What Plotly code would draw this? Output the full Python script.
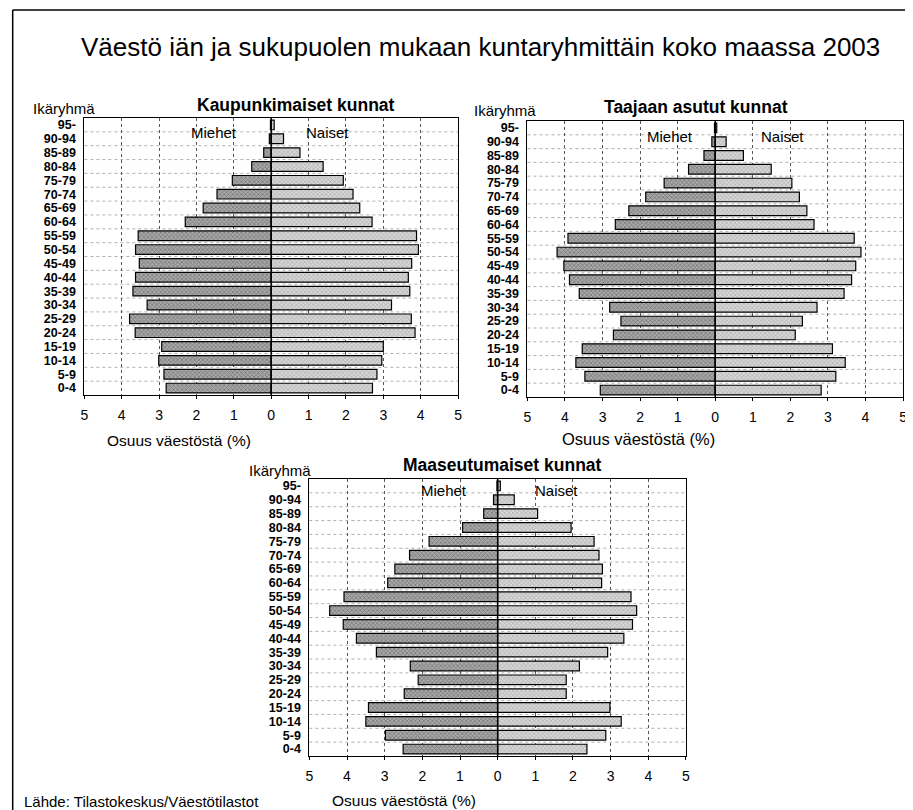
import plotly.graph_objects as go

# Page offset (browser default body margin) and figure size
OFF = 8
W, H = 913 - OFF, 810 - OFF

age_groups = ["0-4", "5-9", "10-14", "15-19", "20-24", "25-29", "30-34", "35-39",
              "40-44", "45-49", "50-54", "55-59", "60-64", "65-69", "70-74",
              "75-79", "80-84", "85-89", "90-94", "95-"]

# Kaupunkimaiset kunnat
kaup_miehet = [2.81, 2.87, 3.01, 2.93, 3.64, 3.79, 3.32, 3.70, 3.63, 3.53,
               3.63, 3.56, 2.30, 1.82, 1.45, 1.04, 0.52, 0.20, 0.05, 0.02]
kaup_naiset = [2.71, 2.83, 2.96, 3.00, 3.85, 3.75, 3.22, 3.71, 3.67, 3.76,
               3.94, 3.89, 2.70, 2.37, 2.19, 1.93, 1.39, 0.77, 0.33, 0.08]
# Taajaan asutut kunnat
taaj_miehet = [3.06, 3.47, 3.71, 3.54, 2.71, 2.51, 2.81, 3.62, 3.88, 4.03,
               4.21, 3.92, 2.66, 2.30, 1.85, 1.36, 0.71, 0.30, 0.09, 0.02]
taaj_naiset = [2.82, 3.21, 3.46, 3.12, 2.13, 2.32, 2.71, 3.43, 3.63, 3.74,
               3.88, 3.70, 2.63, 2.44, 2.24, 2.04, 1.49, 0.75, 0.29, 0.04]
# Maaseutumaiset kunnat
maas_miehet = [2.51, 2.98, 3.50, 3.43, 2.48, 2.11, 2.32, 3.22, 3.75, 4.10,
               4.46, 4.08, 2.92, 2.73, 2.34, 1.82, 0.93, 0.37, 0.11, 0.02]
maas_naiset = [2.37, 2.87, 3.28, 2.98, 1.82, 1.82, 2.17, 2.92, 3.35, 3.58,
               3.69, 3.54, 2.76, 2.78, 2.69, 2.56, 1.95, 1.06, 0.44, 0.07]

x_tickvals = [-5, -4, -3, -2, -1, 0, 1, 2, 3, 4, 5]
x_ticktext = ["5", "4", "3", "2", "1", "0", "1", "2", "3", "4", "5"]

title_text = "Väestö iän ja sukupuolen mukaan kuntaryhmittäin koko maassa 2003"
panel_titles = ["Kaupunkimaiset kunnat", "Taajaan asutut kunnat", "Maaseutumaiset kunnat"]
x_title = "Osuus väestöstä (%)"
y_title = "Ikäryhmä"
source_text = "Lähde: Tilastokeskus/Väestötilastot"


def px(x):
    return (x - OFF) / W


def py(y):
    return 1 - (y - OFF) / H


FONT = "Liberation Sans, Arial, sans-serif"

panels = [
    dict(m=kaup_miehet, n=kaup_naiset, x0=81, x1=458, y0=118, y1=395, mx=-1.52, nx=1.52, ly=18.45),
    dict(m=taaj_miehet, n=taaj_naiset, x0=528, x1=907, y0=121, y1=397, mx=-1.21, nx=1.79, ly=18.35),
    dict(m=maas_miehet, n=maas_naiset, x0=308, x1=688, y0=479, y1=756, mx=-1.42, nx=1.55, ly=18.7),
]

fig = go.Figure()
annotations = []
shapes = []

for i, p in enumerate(panels, start=1):
    xa = "x" if i == 1 else f"x{i}"
    ya = "y" if i == 1 else f"y{i}"
    fig.add_trace(go.Bar(
        y=age_groups, x=[-v for v in p["m"]], orientation="h",
        xaxis=xa, yaxis=ya, name="Miehet", showlegend=False,
        marker=dict(color="#8e8e8e", line=dict(color="black", width=1.2),
                    pattern=dict(shape="x", size=3, solidity=0.45,
                                 fgcolor="#4a4a4a", bgcolor="#a8a8a8")),
        hoverinfo="skip",
    ))
    fig.add_trace(go.Bar(
        y=age_groups, x=p["n"], orientation="h",
        xaxis=xa, yaxis=ya, name="Naiset", showlegend=False,
        marker=dict(color="#c4c4c4", line=dict(color="black", width=1.2),
                    pattern=dict(shape="x", size=3, solidity=0.35,
                                 fgcolor="#808080", bgcolor="#d6d6d6")),
        hoverinfo="skip",
    ))
    xaxis = dict(
        domain=[px(p["x0"]), px(p["x1"])], anchor=ya, range=[-5, 5],
        tickvals=x_tickvals, ticktext=x_ticktext,
        tickfont=dict(family=FONT, size=14, color="black"),
        showgrid=True, gridcolor="#555", griddash="dot", gridwidth=1,
        zeroline=False, showline=True, linecolor="black", linewidth=1, mirror=True,
        ticks="outside", ticklen=3, tickcolor="black", ticklabelstandoff=4,
        fixedrange=True,
    )
    yaxis = dict(
        domain=[py(p["y1"]), py(p["y0"])], anchor=xa, type="category",
        categoryorder="array", categoryarray=age_groups, range=[-0.5, 19.5],
        tickmode="array", tickvals=age_groups, ticktext=age_groups,
        tickfont=dict(family=FONT, size=12.5, color="black", weight="bold"),
        showgrid=False, zeroline=False, showline=True, linecolor="black",
        linewidth=1, mirror=True, ticks="", ticklabelstandoff=5, fixedrange=True,
    )
    fig.update_layout(**{("xaxis" if i == 1 else f"xaxis{i}"): xaxis,
                         ("yaxis" if i == 1 else f"yaxis{i}"): yaxis})
    # faint dotted horizontal lines between rows
    for k in range(len(age_groups) - 1):
        shapes.append(dict(type="line", xref=f"{xa} domain", yref=ya, x0=0, x1=1,
                           y0=k + 0.5, y1=k + 0.5, layer="below",
                           line=dict(color="#b0b0b0", width=1, dash="dot")))
    # zero line above bars
    shapes.append(dict(type="line", xref=xa, yref=f"{ya} domain", x0=0, x1=0, y0=0, y1=1,
                       line=dict(color="black", width=1.5), layer="above"))
    annotations.append(dict(text="Miehet", x=p["mx"], y=p["ly"], xref=xa, yref=ya,
                            showarrow=False, font=dict(family=FONT, size=15, color="black")))
    annotations.append(dict(text="Naiset", x=p["nx"], y=p["ly"], xref=xa, yref=ya,
                            showarrow=False, font=dict(family=FONT, size=15, color="black")))

panel_title_pos = [(295, 105), (698, 107), (503, 465)]
ytitle_pos = [(27, 109), (472, 111), (245, 471)]
xtitle_pos = [(176, 440, 15.5), (640, 439, 16.5), (403, 800, 15.5)]
for t, (tx, ty) in zip(panel_titles, panel_title_pos):
    annotations.append(dict(text=f"<b>{t}</b>", x=px(tx), y=py(ty), xref="paper", yref="paper",
                            showarrow=False, xanchor="center", yanchor="middle",
                            font=dict(family=FONT, size=17.5, color="black")))
for (tx, ty) in ytitle_pos:
    annotations.append(dict(text=y_title, x=px(tx), y=py(ty), xref="paper", yref="paper",
                            showarrow=False, xanchor="left", yanchor="middle",
                            font=dict(family=FONT, size=15, color="black")))
for (tx, ty, fs) in xtitle_pos:
    annotations.append(dict(text=x_title, x=px(tx), y=py(ty), xref="paper", yref="paper",
                            showarrow=False, xanchor="center", yanchor="middle",
                            font=dict(family=FONT, size=fs, color="black")))

annotations.append(dict(text=title_text, x=px(481), y=py(47), xref="paper", yref="paper",
                        showarrow=False, xanchor="center", yanchor="middle",
                        font=dict(family=FONT, size=26, color="black")))
annotations.append(dict(text=source_text, x=px(18), y=py(801), xref="paper", yref="paper",
                        showarrow=False, xanchor="left", yanchor="middle",
                        font=dict(family=FONT, size=15, color="black")))

# outer frame (top and left edges)
shapes.append(dict(type="line", xref="paper", yref="paper", x0=px(8.7), x1=1, y0=py(10), y1=py(10),
                   line=dict(color="black", width=1.5)))
shapes.append(dict(type="line", xref="paper", yref="paper", x0=px(8.7), x1=px(8.7), y0=py(10), y1=0,
                   line=dict(color="black", width=1.5)))

fig.update_layout(
    width=W, height=H, margin=dict(l=0, r=0, t=0, b=0),
    paper_bgcolor="white", plot_bgcolor="white",
    barmode="relative", bargap=0.3,
    annotations=annotations, shapes=shapes,
    font=dict(family=FONT, color="black"),
)

fig.write_html("out.html")
